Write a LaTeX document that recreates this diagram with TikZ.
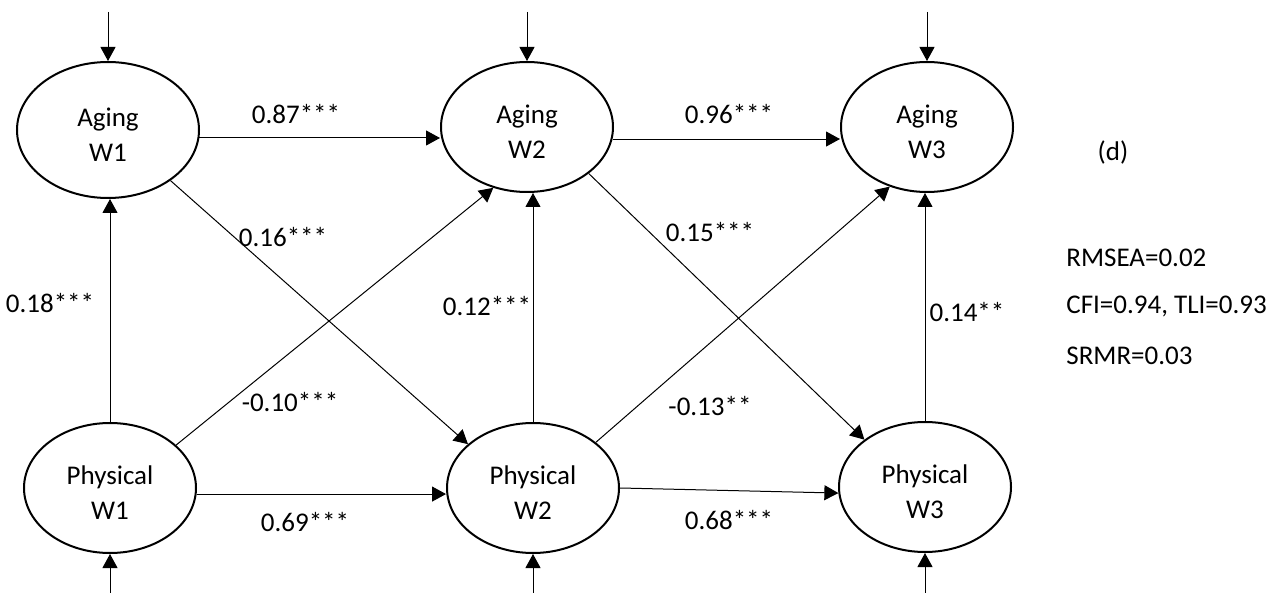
\documentclass[tikz,border=0pt]{standalone}
\usepackage{fontspec}
\setmainfont{Carlito}
\usetikzlibrary{shapes.geometric,arrows.meta}
\begin{document}
\begin{tikzpicture}[x=0.5pt,y=-0.5pt,
  lat/.style={ellipse,draw,line width=1pt,minimum width=86pt,minimum height=65pt,inner sep=0pt},
  lattext/.style={align=center,yshift=-2.5pt,inner sep=0pt,font=\fontsize{13.5}{17.5}\selectfont},
  arr/.style={line width=0.5pt,-{Triangle[length=7pt,width=7.5pt]}},
  lbl/.style={font=\fontsize{13.5}{16}\selectfont,inner sep=0pt},
  fit/.style={font=\fontsize{13.5}{16}\selectfont,inner sep=0pt,anchor=west}]
\useasboundingbox (0,0) rectangle (1286,593);
% latent nodes
\node[lat,minimum width=91pt,minimum height=68pt,label={[lattext]center:{Aging\\W1}}] (aw1) at (108,130) {};
\node[lat,label={[lattext]center:{Aging\\W2}}] (aw2) at (527,127) {};
\node[lat,label={[lattext]center:{Aging\\W3}}] (aw3) at (927,127) {};
\node[lat,label={[lattext]center:{Physical\\W1}}] (pw1) at (110,488) {};
\node[lat,label={[lattext]center:{Physical\\W2}}] (pw2) at (533,488) {};
\node[lat,label={[lattext]center:{Physical\\W3}}] (pw3) at (925,487) {};
% residual arrows
\coordinate (t1) at (108,12);
\coordinate (t2) at (527,12);
\coordinate (t3) at (927,12);
\coordinate (b1) at (110,593);
\coordinate (b2) at (533,593);
\coordinate (b3) at (925,593);
\draw[arr] (t1) -- (aw1.north);
\draw[arr] (t2) -- (aw2.north);
\draw[arr] (t3) -- (aw3.north);
\draw[arr] (b1) -- (pw1.south);
\draw[arr] (b2) -- (pw2.south);
\draw[arr] (b3) -- (pw3.south);
% autoregressive paths
\draw[arr] (aw1.-5) -- (aw1.-5 -| aw2.west);
\draw[arr] (aw2.-8) -- (aw2.-8 -| aw3.west);
\draw[arr] (pw1.-4) -- (pw1.-4 -| pw2.west);
\draw[arr] (pw2.east) -- (pw3.184);
% concurrent paths
\draw[arr] (pw1.north) -- (pw1.north |- aw1.south);
\draw[arr] (pw2.north) -- (pw2.north |- aw2.south);
\draw[arr] (pw3.north) -- (pw3.north |- aw3.south);
% cross-lagged paths
\draw[arr] (aw1.-39.6) -- (pw2.146.5);
\draw[arr] (pw1.33) -- (aw2.241);
\draw[arr] (aw2.-37.6) -- (pw3.142);
\draw[arr] (pw2.36.6) -- (aw3.238);
% labels
\node[lbl] (l1) at (296,114) {0.87***};
\node[lbl] (l2) at (729,114) {0.96***};
\node[lbl] (l3) at (283,237) {0.16***};
\node[lbl] (l4) at (710,232) {0.15***};
\node[lbl] (l5) at (50,303) {0.18***};
\node[lbl] (l6) at (487,306) {0.12***};
\node[lbl] (l7) at (967,312) {0.14**};
\node[lbl] (l8) at (290,402) {-0.10***};
\node[lbl] (l9) at (710,406) {-0.13**};
\node[lbl] (l10) at (305,522) {0.69***};
\node[lbl] (l11) at (729,520) {0.68***};
% fit indices
\node[lbl] (d) at (1113,153) {(d)};
\node[fit] (f1) at (1066,258) {RMSEA=0.02};
\node[fit] (f2) at (1066,306) {CFI=0.94, TLI=0.93};
\node[fit] (f3) at (1066,356) {SRMR=0.03};
\end{tikzpicture}
\end{document}
